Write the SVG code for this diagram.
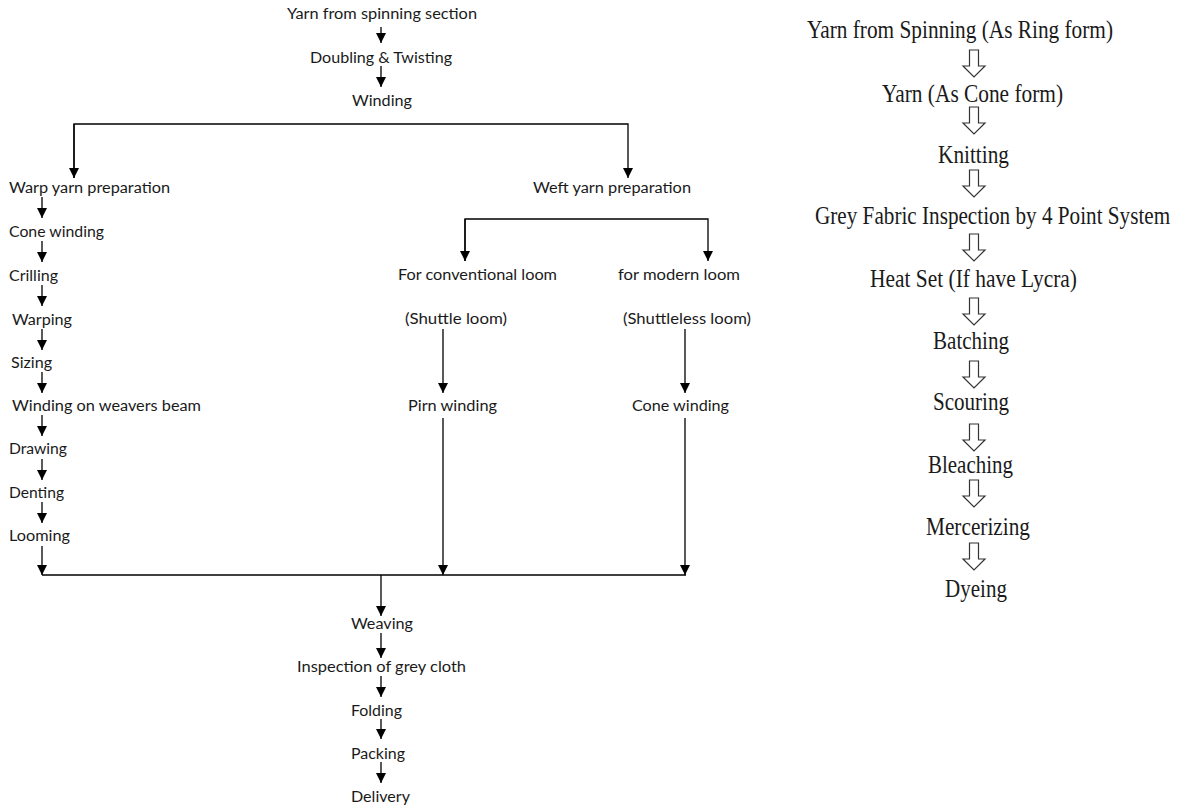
<svg xmlns="http://www.w3.org/2000/svg" width="1187" height="810" viewBox="0 0 1187 810">
<style>
.l{font-family:Lato,"Open Sans","Liberation Sans",sans-serif;font-size:15.5px;fill:#1a1a1a}
.r{font-family:"Liberation Serif","Times New Roman",serif;font-size:26px;fill:#1a1a1a}
.c{stroke:#000;stroke-width:1.3;fill:none}
.h{stroke:#333;stroke-width:1.2;fill:#fff}
</style>
<defs>
<marker id="ah" viewBox="0 0 10 10" refX="10" refY="5" markerWidth="10" markerHeight="10" markerUnits="userSpaceOnUse" orient="auto">
<path d="M0,0 L10,5 L0,10 Z" fill="#000"/>
</marker>
<path id="ha" d="M-4.5,0 L4.5,0 L4.5,16 L11,16 L0,27 L-11,16 L-4.5,16 Z"/>
</defs>
<rect width="1187" height="810" fill="#fff"/>

<g id="connectors">
<line class="c" x1="381" y1="27" x2="381" y2="43" marker-end="url(#ah)"/>
<line class="c" x1="381" y1="66" x2="381" y2="87" marker-end="url(#ah)"/>
<polyline class="c" points="74,178 74,124 628,124 628,178" marker-end="url(#ah)"/>
<line class="c" x1="74" y1="124" x2="74" y2="178" marker-end="url(#ah)"/>
<line class="c" x1="42" y1="197" x2="42" y2="218" marker-end="url(#ah)"/>
<line class="c" x1="42" y1="241" x2="42" y2="262" marker-end="url(#ah)"/>
<line class="c" x1="42" y1="285" x2="42" y2="306" marker-end="url(#ah)"/>
<line class="c" x1="42" y1="329" x2="42" y2="350" marker-end="url(#ah)"/>
<line class="c" x1="42" y1="372" x2="42" y2="393" marker-end="url(#ah)"/>
<line class="c" x1="42" y1="415" x2="42" y2="436" marker-end="url(#ah)"/>
<line class="c" x1="42" y1="459" x2="42" y2="480" marker-end="url(#ah)"/>
<line class="c" x1="42" y1="502" x2="42" y2="523" marker-end="url(#ah)"/>
<line class="c" x1="42" y1="546" x2="42" y2="575" marker-end="url(#ah)"/>
<polyline class="c" points="465,261 465,219 708,219 708,261" marker-end="url(#ah)"/>
<line class="c" x1="465" y1="219" x2="465" y2="261" marker-end="url(#ah)"/>
<line class="c" x1="443" y1="329" x2="443" y2="393" marker-end="url(#ah)"/>
<line class="c" x1="685" y1="329" x2="685" y2="393" marker-end="url(#ah)"/>
<line class="c" x1="443" y1="418" x2="443" y2="575" marker-end="url(#ah)"/>
<line class="c" x1="685" y1="418" x2="685" y2="575" marker-end="url(#ah)"/>
<line class="c" x1="42" y1="575" x2="686" y2="575"/>
<line class="c" x1="381" y1="575" x2="381" y2="616" marker-end="url(#ah)"/>
<line class="c" x1="381" y1="633" x2="381" y2="658" marker-end="url(#ah)"/>
<line class="c" x1="381" y1="676" x2="381" y2="697" marker-end="url(#ah)"/>
<line class="c" x1="381" y1="719" x2="381" y2="739" marker-end="url(#ah)"/>
<line class="c" x1="381" y1="762" x2="381" y2="783" marker-end="url(#ah)"/>
<use href="#ha" class="h" x="974" y="50"/>
<use href="#ha" class="h" x="974" y="107"/>
<use href="#ha" class="h" x="974" y="170"/>
<use href="#ha" class="h" x="974" y="234"/>
<use href="#ha" class="h" x="974" y="298"/>
<use href="#ha" class="h" x="974" y="361"/>
<use href="#ha" class="h" x="974" y="424"/>
<use href="#ha" class="h" x="974" y="480"/>
<use href="#ha" class="h" x="974" y="543"/>
</g>

<g id="n-yarn-spinning"><text class="l" x="287" y="19" textLength="190" lengthAdjust="spacingAndGlyphs">Yarn from spinning section</text></g>
<g id="n-doubling"><text class="l" x="310" y="63" textLength="142" lengthAdjust="spacingAndGlyphs">Doubling &amp; Twisting</text></g>
<g id="n-winding"><text class="l" x="352" y="106" textLength="60" lengthAdjust="spacingAndGlyphs">Winding</text></g>
<g id="n-warp"><text class="l" x="9" y="193" textLength="161" lengthAdjust="spacingAndGlyphs">Warp yarn preparation</text></g>
<g id="n-cone-winding"><text class="l" x="9" y="237" textLength="95" lengthAdjust="spacingAndGlyphs">Cone winding</text></g>
<g id="n-crilling"><text class="l" x="9" y="281" textLength="49" lengthAdjust="spacingAndGlyphs">Crilling</text></g>
<g id="n-warping"><text class="l" x="12" y="325" textLength="60" lengthAdjust="spacingAndGlyphs">Warping</text></g>
<g id="n-sizing"><text class="l" x="11" y="368" textLength="41" lengthAdjust="spacingAndGlyphs">Sizing</text></g>
<g id="n-weavers-beam"><text class="l" x="12" y="411" textLength="189" lengthAdjust="spacingAndGlyphs">Winding on weavers beam</text></g>
<g id="n-drawing"><text class="l" x="9" y="454" textLength="58" lengthAdjust="spacingAndGlyphs">Drawing</text></g>
<g id="n-denting"><text class="l" x="9" y="498" textLength="55" lengthAdjust="spacingAndGlyphs">Denting</text></g>
<g id="n-looming"><text class="l" x="9" y="541" textLength="61" lengthAdjust="spacingAndGlyphs">Looming</text></g>
<g id="n-weft"><text class="l" x="533" y="193" textLength="158" lengthAdjust="spacingAndGlyphs">Weft yarn preparation</text></g>
<g id="n-conventional"><text class="l" x="398" y="280" textLength="159" lengthAdjust="spacingAndGlyphs">For conventional loom</text><text class="l" x="405" y="324" textLength="102" lengthAdjust="spacingAndGlyphs">(Shuttle loom)</text></g>
<g id="n-modern"><text class="l" x="618" y="280" textLength="122" lengthAdjust="spacingAndGlyphs">for modern loom</text><text class="l" x="623" y="324" textLength="128" lengthAdjust="spacingAndGlyphs">(Shuttleless loom)</text></g>
<g id="n-pirn"><text class="l" x="408" y="411" textLength="89" lengthAdjust="spacingAndGlyphs">Pirn winding</text></g>
<g id="n-cone-winding-2"><text class="l" x="632" y="411" textLength="97" lengthAdjust="spacingAndGlyphs">Cone winding</text></g>
<g id="n-weaving"><text class="l" x="351" y="629" textLength="62" lengthAdjust="spacingAndGlyphs">Weaving</text></g>
<g id="n-inspection"><text class="l" x="297" y="672" textLength="169" lengthAdjust="spacingAndGlyphs">Inspection of grey cloth</text></g>
<g id="n-folding"><text class="l" x="351" y="716" textLength="51" lengthAdjust="spacingAndGlyphs">Folding</text></g>
<g id="n-packing"><text class="l" x="351" y="759" textLength="54" lengthAdjust="spacingAndGlyphs">Packing</text></g>
<g id="n-delivery"><text class="l" x="351" y="802" textLength="59" lengthAdjust="spacingAndGlyphs">Delivery</text></g>

<g id="r-yarn-spinning"><text class="r" x="807" y="38" textLength="306" lengthAdjust="spacingAndGlyphs">Yarn from Spinning (As Ring form)</text></g>
<g id="r-yarn-cone"><text class="r" x="882" y="102" textLength="181" lengthAdjust="spacingAndGlyphs">Yarn (As Cone form)</text></g>
<g id="r-knitting"><text class="r" x="938" y="163" textLength="71" lengthAdjust="spacingAndGlyphs">Knitting</text></g>
<g id="r-grey-inspection"><text class="r" transform="translate(815 224) scale(0.8 1)" x="0" y="0" textLength="444" lengthAdjust="spacingAndGlyphs">Grey Fabric Inspection by 4 Point System</text></g>
<g id="r-heat-set"><text class="r" x="870" y="287" textLength="207" lengthAdjust="spacingAndGlyphs">Heat Set (If have Lycra)</text></g>
<g id="r-batching"><text class="r" x="933" y="349" textLength="76" lengthAdjust="spacingAndGlyphs">Batching</text></g>
<g id="r-scouring"><text class="r" x="933" y="410" textLength="76" lengthAdjust="spacingAndGlyphs">Scouring</text></g>
<g id="r-bleaching"><text class="r" x="928" y="473" textLength="85" lengthAdjust="spacingAndGlyphs">Bleaching</text></g>
<g id="r-mercerizing"><text class="r" x="926" y="535" textLength="104" lengthAdjust="spacingAndGlyphs">Mercerizing</text></g>
<g id="r-dyeing"><text class="r" x="945" y="597" textLength="62" lengthAdjust="spacingAndGlyphs">Dyeing</text></g>
</svg>
